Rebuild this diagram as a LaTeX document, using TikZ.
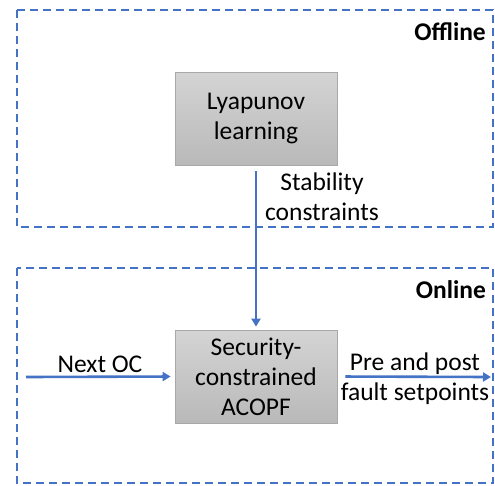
\documentclass[tikz,border=0pt]{standalone}
\usepackage{fontspec}
\setmainfont{Carlito}
\usetikzlibrary{arrows.meta}
\definecolor{cblue}{HTML}{4472C4}
\definecolor{gtop}{HTML}{D4D4D4}
\definecolor{gbot}{HTML}{B9B9B9}
\definecolor{gedge}{HTML}{A8A8A8}
\tikzset{
  region/.style={draw=cblue, line width=2.8pt, dash pattern=on 8pt off 5pt},
  procbox/.style={draw=gedge, line width=0.8pt, top color=gtop, bottom color=gbot,
    minimum width=162pt, minimum height=93pt, align=center, inner sep=0pt,
    font=\fontsize{25.5}{30}\selectfont},
  lbl/.style={align=center, inner sep=0pt, font=\fontsize{25.5}{30}\selectfont},
  ttl/.style={anchor=east, inner sep=0pt, font=\fontsize{25.5}{30}\selectfont\bfseries},
  flow/.style={draw=cblue, line width=2.6pt, -{Triangle[length=8pt,width=9pt]}}
}
\begin{document}
\begin{tikzpicture}[x=1pt,y=-1pt]
\useasboundingbox (0,0) rectangle (495,485);
\draw[region] (17,10) rectangle (493,227);
\draw[region] (17,268) rectangle (493,483);
\node[ttl] (off) at (486,32) {Offline};
\node[ttl] (on) at (486,290) {Online};
\node[procbox] (lyap) at (256,118.5) {Lyapunov\\learning};
\node[procbox] (sec) at (256,376.5) {Security-\\constrained\\ACOPF};
\coordinate (inL) at (26,377);
\coordinate (outR) at (491,377);
\draw[flow, shorten <=6pt, shorten >=3pt] (lyap) -- (sec);
\draw[flow, shorten >=4pt] (inL) -- (sec.west);
\draw[flow, shorten <=8pt] (sec.east) -- (outR);
\node[lbl] (stab) at (322,197) {Stability\\constraints};
\node[lbl] (next) at (100,364) {Next OC};
\node[lbl] (pre) at (415,379) {Pre and post\\fault setpoints};
\end{tikzpicture}
\end{document}
